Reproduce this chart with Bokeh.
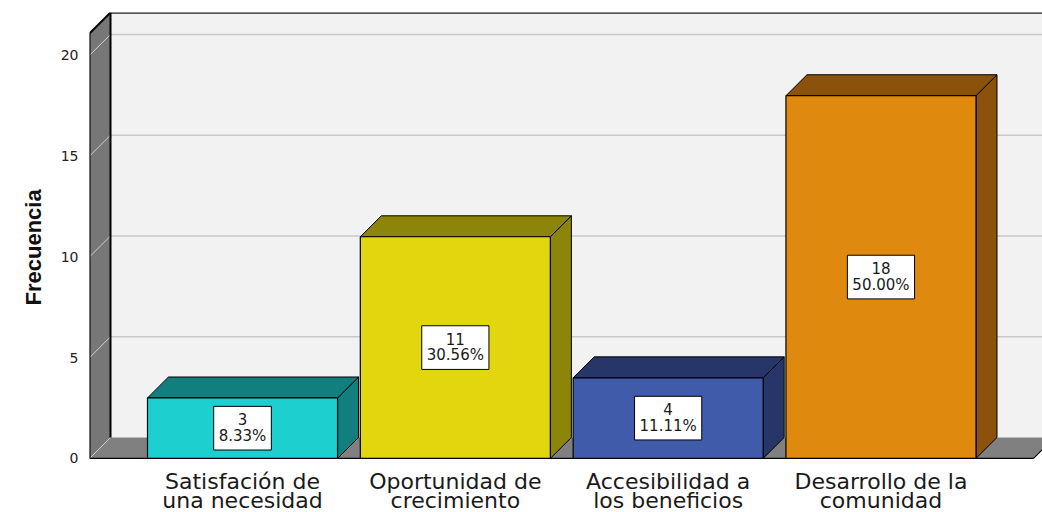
import numpy as np
from bokeh.plotting import figure
from bokeh.models import Range1d, FixedTicker, Title
from bokeh.embed import file_html
from bokeh.resources import INLINE
from bokeh.core.properties import value

# ---- data ----
categories = ["Satisfación de\nuna necesidad", "Oportunidad de\ncrecimiento",
              "Accesibilidad a\nlos beneficios", "Desarrollo de la\ncomunidad"]
counts = [3, 11, 4, 18]
percents = ["8.33%", "30.56%", "11.11%", "50.00%"]
y_ticks = [0, 5, 10, 15, 20]
y_label = "Frecuencia"

# ---- styles ----
front_colors = ["#1dcfcf", "#e2d60f", "#3f5ba9", "#e0890f"]
side_colors = ["#117f7d", "#8d850a", "#263669", "#8a520a"]
WALL = "#777777"
FLOOR = "#808080"
BACK = "#f2f2f2"
GRID = "#c8c8c8"

X_MIN, X_MAX = -0.719, 3.759
Y_MAX = 22.13
Y_LO = Y_MAX - 500 / 20.15
DX, DY = 0.0987, 1.04
BAR_W = 0.893
FLOOR_END = 3.717

p = figure(width=1042, height=512,
           x_range=Range1d(X_MIN, X_MAX), y_range=Range1d(Y_LO, Y_MAX),
           output_backend="svg", toolbar_location=None,
           x_axis_location=None,
           min_border_left=89, min_border_right=0,
           min_border_top=12, min_border_bottom=0)
p.outline_line_color = None
p.xgrid.visible = False
p.ygrid.visible = False
p.background_fill_color = "white"
p.border_fill_color = "white"

# back wall
p.quad(left=X_MIN + DX, right=X_MAX, bottom=DY, top=Y_MAX,
       fill_color=BACK, line_color=None)
gv = np.array([t for t in y_ticks if t > 0], dtype=float)
p.segment(x0=X_MIN + DX, x1=X_MAX, y0=gv + DY, y1=gv + DY,
          line_color=GRID, line_width=1.5)
p.segment(x0=[X_MIN + DX], x1=[X_MAX], y0=[Y_MAX], y1=[Y_MAX],
          line_color="#222222", line_width=2.5)

# floor
p.patch(x=[X_MIN, FLOOR_END, FLOOR_END + DX, X_MIN + DX],
        y=[0, 0, DY, DY], fill_color=FLOOR, line_color=None)
p.segment(x0=[X_MIN, FLOOR_END], x1=[FLOOR_END, FLOOR_END + DX],
          y0=[0, 0], y1=[0, DY], line_color="black", line_width=1.2)

# left wall
p.patch(x=[X_MIN, X_MIN + DX, X_MIN + DX, X_MIN],
        y=[0, DY, Y_MAX, Y_MAX - DY], fill_color=WALL, line_color=None)
tv = np.array(y_ticks, dtype=float)
p.segment(x0=X_MIN, x1=X_MIN + DX, y0=tv, y1=tv + DY,
          line_color="#d0d0d0", line_width=1)
p.segment(x0=[X_MIN, X_MIN, X_MIN + DX],
          x1=[X_MIN, X_MIN + DX, X_MIN + DX],
          y0=[0, Y_MAX - DY, DY], y1=[Y_MAX - DY, Y_MAX, Y_MAX],
          line_color="black", line_width=2)

# bars
xc = np.arange(len(counts), dtype=float)
cv = np.array(counts, dtype=float)
left = xc - BAR_W / 2
right = xc + BAR_W / 2
top_xs = [[l, r, r + DX, l + DX] for l, r in zip(left, right)]
top_ys = [[c, c, c + DY, c + DY] for c in cv]
side_xs = [[r, r + DX, r + DX, r] for r in right]
side_ys = [[0, DY, c + DY, c] for c in cv]
p.patches(xs=side_xs, ys=side_ys, fill_color=side_colors,
          line_color="black", line_width=1)
p.patches(xs=top_xs, ys=top_ys, fill_color=side_colors,
          line_color="black", line_width=1)
p.quad(left=left, right=right, bottom=0, top=cv,
       fill_color=front_colors, line_color="black", line_width=1.2)

# value labels
labels = [f"{c}\n{pc}" for c, pc in zip(counts, percents)]
p.text(x=xc, y=cv / 2, text=labels,
       text_font=value("DejaVu Sans"), text_font_size="15px",
       text_color="#1a1a1a", text_align="center", text_baseline="middle",
       text_line_height=0.87,
       background_fill_color="white", border_line_color="black",
       border_line_width=1, padding=5)

# category labels (below the floor)
line1 = [c.split("\n")[0] for c in categories]
line2 = [c.split("\n")[1] for c in categories]
for txt, off in ((line1, 23), (line2, 42)):
    p.text(x=xc, y=np.zeros(len(xc)), text=txt, y_offset=off,
           text_font=value("DejaVu Sans"), text_font_size="22px",
           text_color="#1a1a1a", text_align="center",
           text_baseline="alphabetic")

# y axis
p.yaxis.ticker = FixedTicker(ticks=y_ticks)
p.yaxis.axis_line_color = None
p.yaxis.major_tick_line_color = None
p.yaxis.minor_tick_line_color = None
p.yaxis.major_tick_out = 0
p.yaxis.major_tick_in = 0
p.yaxis.major_label_standoff = 11
p.yaxis.major_label_text_font = "DejaVu Sans"
p.yaxis.major_label_text_font_size = "14px"
p.yaxis.major_label_text_color = "#222222"

t = Title(text=y_label, align="left", offset=207, standoff=20,
          vertical_align="top",
          text_font="'Liberation Sans Narrow', 'Liberation Sans'",
          text_font_size="22px", text_font_style="bold",
          text_color="#111111")
p.add_layout(t, "left")

open("out.html", "w").write(file_html(p, INLINE))
